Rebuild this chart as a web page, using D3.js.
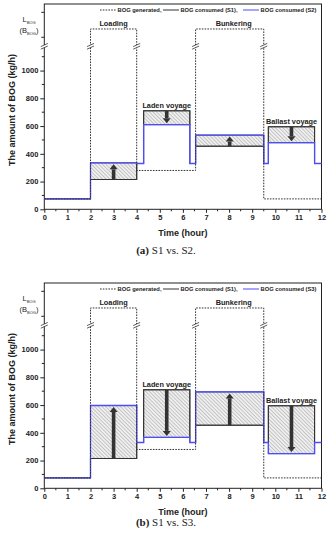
<!DOCTYPE html>
<html>
<head>
<meta charset="utf-8">
<script src="https://cdn.jsdelivr.net/npm/d3@7"></script>
<style>
	body { margin: 0; background: #fff; }
	svg { display: block; font-family: "Liberation Sans", Arial, sans-serif; }
</style>
</head>
<body>
<script>
// * Data

const hourTicks = d3.range(0, 13);
const hourMinor = d3.range(0.5, 12, 1);
const bogTicks = [0, 200, 400, 600, 800, 1000];
const bogMinor = [100, 300, 500, 700, 900, 1100];

const phaseNames = ["Loading", "Laden voyage", "Bunkering", "Ballast voyage"];
const phaseStart = [2, 4.3, 6.55, 9.7];
const phaseEnd = [4, 6.3, 9.5, 11.7];

const idleBog = 75; // 0 - 2 h
const gapBog = 330; // between the phases
const consumedS1 = [215, 710, 455, 595];
const consumedS2 = [335, 610, 535, 480];
const consumedS3 = [597, 367, 695, 250];

// BOG generated, "L" stands for the L_BOG level above the axis break
const generatedX = [0, 2, 4, 6.55, 9.5, 12];
const generatedY = [75, "L", 280, "L", 75];

// * Size & Margins

let width = 328;
let height = 550;
const LEVEL_L = 1300; // where L_BOG sits above the break
const BREAK_AT = 1175;

var svg = d3
	.select("body")
	.append("svg")
	.attr("width", width)
	.attr("height", height);

// hatch pattern
const defs = svg.append("defs");
const pat = defs
	.append("pattern")
	.attr("id", "hatch")
	.attr("patternUnits", "userSpaceOnUse")
	.attr("width", 2.6)
	.attr("height", 2.6)
	.attr("patternTransform", "rotate(-45)");
pat.append("rect").attr("width", 2.6).attr("height", 2.6).attr("fill", "#efefef");
pat.append("line")
	.attr("x1", 0).attr("y1", 0).attr("x2", 0).attr("y2", 2.6)
	.attr("stroke", "#8a8a8a").attr("stroke-width", 0.8);

const xScale = d3.scaleLinear().domain([0, 12]).range([44.3, 321.5]);

function drawPanel(top, consumed, sLabel, captionTag, captionY) {
	const g = svg.append("g");
	const yScale = d3.scaleLinear().domain([0, 1480]).range([top + 205.3, top]);
	const val = (v) => (v === "L" ? LEVEL_L : v);
	const yBreak = yScale(BREAK_AT);

	// * Frame
	g.append("rect")
		.attr("x", xScale(0))
		.attr("y", yScale(1480))
		.attr("width", xScale(12) - xScale(0))
		.attr("height", yScale(0) - yScale(1480))
		.attr("fill", "none")
		.attr("stroke", "#222")
		.attr("stroke-width", 1);

	// * Hatched boxes between S1 and the other case
	g.selectAll(".box")
		.data(phaseNames)
		.join("rect")
		.attr("x", (d, i) => xScale(phaseStart[i]))
		.attr("y", (d, i) => yScale(Math.max(consumedS1[i], consumed[i])))
		.attr("width", (d, i) => xScale(phaseEnd[i]) - xScale(phaseStart[i]))
		.attr("height", (d, i) => Math.abs(yScale(consumedS1[i]) - yScale(consumed[i])))
		.attr("fill", "url(#hatch)")
		.attr("stroke", "#444")
		.attr("stroke-width", 1);

	// * Step lines
	function stepPoints(values) {
		const xs = [0];
		const vs = [idleBog];
		values.forEach((v, i) => {
			xs.push(phaseStart[i]);
			vs.push(v);
			xs.push(phaseEnd[i]);
			vs.push(gapBog);
		});
		xs.push(12);
		vs.push(gapBog);
		return xs.map((x, i) => [x, vs[i]]);
	}
	const line = d3
		.line()
		.x((d) => xScale(d[0]))
		.y((d) => yScale(d[1]))
		.curve(d3.curveStepAfter);

	g.append("path")
		.attr("d", line(stepPoints(consumedS1)))
		.attr("fill", "none")
		.attr("stroke", "#333")
		.attr("stroke-width", 1.1);

	g.append("path")
		.attr("d", line(stepPoints(consumed)))
		.attr("fill", "none")
		.attr("stroke", "#4d4dff")
		.attr("stroke-width", 1.3);

	// generated (dotted)
	const genPts = generatedY.map((v, i) => [generatedX[i], val(v)]);
	genPts.push([12, val(generatedY[generatedY.length - 1])]);
	g.append("path")
		.attr("d", line(genPts))
		.attr("fill", "none")
		.attr("stroke", "#333")
		.attr("stroke-width", 1)
		.attr("stroke-dasharray", "1.6,1.2");

	// * Axis break marks
	const breakXs = [0].concat(generatedX.filter((x, i) => i > 0 && i < generatedX.length - 1));
	breakXs.forEach((hx) => {
		const cx = xScale(hx);
		g.append("rect")
			.attr("x", cx - 2)
			.attr("y", yBreak - 1.3)
			.attr("width", 4)
			.attr("height", 2.6)
			.attr("fill", "#fff");
		[-1.3, 1.3].forEach((o) => {
			g.append("line")
				.attr("x1", cx - 3.5)
				.attr("y1", yBreak + o + 1.6)
				.attr("x2", cx + 3.5)
				.attr("y2", yBreak + o - 1.6)
				.attr("stroke", "#333")
				.attr("stroke-width", 0.8);
		});
	});

	// * Arrows
	phaseNames.forEach((p, i) => {
		const cx = xScale((phaseStart[i] + phaseEnd[i]) / 2);
		const y1 = yScale(consumedS1[i]);
		const y2 = yScale(consumed[i]);
		const dir = Math.sign(y2 - y1);
		const tip = y2 - dir * 1.5;
		const headBase = tip - dir * 5;
		g.append("rect")
			.attr("x", cx - 1.8)
			.attr("y", Math.min(y1, headBase))
			.attr("width", 3.6)
			.attr("height", Math.abs(headBase - y1))
			.attr("fill", "#333");
		g.append("path")
			.attr("d", `M${cx - 4},${headBase}L${cx + 4},${headBase}L${cx},${tip}Z`)
			.attr("fill", "#333");
	});

	// * Phase labels
	phaseNames.forEach((p, i) => {
		const top2 = i % 2 === 0 ? LEVEL_L : Math.max(consumedS1[i], consumed[i]);
		g.append("text")
			.attr("x", xScale((phaseStart[i] + phaseEnd[i]) / 2) + (i === 2 ? 4 : 0))
			.attr("y", yScale(top2) - 3)
			.attr("text-anchor", "middle")
			.attr("font-size", "7.3px")
			.attr("font-weight", "bold")
			.attr("fill", "#222")
			.text(p);
	});

	// * Axes
	const yAxis = g.append("g").attr("transform", `translate(${xScale(0)},0)`);
	yAxis.call(d3.axisLeft(yScale).tickValues(bogTicks).tickSize(4).tickPadding(2).tickFormat(d3.format("d")));
	yAxis.selectAll(".domain").remove();
	yAxis.selectAll("text").attr("font-size", "7.5px").attr("font-weight", "bold").attr("fill", "#222");
	yAxis.selectAll("line").attr("stroke", "#222");
	bogMinor.concat([1240, 1420]).forEach((v) => {
		yAxis.append("line")
			.attr("x1", v > 1200 ? -3 : -2.5)
			.attr("x2", 0)
			.attr("y1", yScale(v))
			.attr("y2", yScale(v))
			.attr("stroke", "#222");
	});

	const xAxis = g.append("g").attr("transform", `translate(0,${yScale(0)})`);
	xAxis.call(d3.axisBottom(xScale).tickValues(hourTicks).tickSize(3.5).tickPadding(2).tickFormat(d3.format("d")));
	xAxis.selectAll(".domain").remove();
	xAxis.selectAll("text").attr("font-size", "7.5px").attr("font-weight", "bold").attr("fill", "#222");
	xAxis.selectAll("line").attr("stroke", "#222");
	hourMinor.forEach((h) => {
		xAxis.append("line")
			.attr("x1", xScale(h)).attr("x2", xScale(h))
			.attr("y1", 0).attr("y2", 2)
			.attr("stroke", "#222");
	});

	// L_BOG (B_BOG) label
	const lab = g.append("text")
		.attr("x", 29)
		.attr("y", yScale(LEVEL_L) - 7)
		.attr("text-anchor", "middle")
		.attr("font-size", "7.5px")
		.attr("fill", "#222");
	lab.append("tspan").text("L");
	lab.append("tspan").attr("font-size", "4px").attr("dy", 2).text("BOG");
	const lab2 = g.append("text")
		.attr("x", 29)
		.attr("y", yScale(LEVEL_L) + 4.5)
		.attr("text-anchor", "middle")
		.attr("font-size", "7.5px")
		.attr("fill", "#222");
	lab2.append("tspan").text("(B");
	lab2.append("tspan").attr("font-size", "4px").attr("dy", 2).text("BOG");
	lab2.append("tspan").attr("dy", -2).text(")");

	// axis titles
	g.append("text")
		.attr("transform", `translate(15,${top + 106}) rotate(-90)`)
		.attr("text-anchor", "middle")
		.attr("font-size", "9px")
		.attr("font-weight", "bold")
		.attr("fill", "#222")
		.text("The amount of BOG (kg/h)");
	g.append("text")
		.attr("x", xScale(6))
		.attr("y", yScale(0) + 26.5)
		.attr("text-anchor", "middle")
		.attr("font-size", "9px")
		.attr("font-weight", "bold")
		.attr("fill", "#222")
		.text("Time (hour)");

	// * LEGEND
	const legend = g.append("g").attr("transform", `translate(0,${top + 6})`);
	const items = [
		{ name: "BOG generated,", stroke: "#333", dash: "1.6,1.2", x: 100, w: 44 },
		{ name: "BOG consumed (S1),", stroke: "#333", dash: null, x: 163, w: 57 },
		{ name: "BOG consumed (" + sLabel + ")", stroke: "#4d4dff", dash: null, x: 243, w: 56 },
	];
	items.forEach((it) => {
		legend.append("line")
			.attr("x1", it.x).attr("x2", it.x + 16)
			.attr("y1", 0).attr("y2", 0)
			.attr("stroke", it.stroke)
			.attr("stroke-width", 1)
			.attr("stroke-dasharray", it.dash);
		legend.append("text")
			.attr("x", it.x + 17.5)
			.attr("y", 2.1)
			.attr("font-size", "5.8px")
			.attr("font-weight", "bold")
			.attr("fill", "#222")
			.attr("textLength", it.w)
			.attr("lengthAdjust", "spacingAndGlyphs")
			.text(it.name);
	});

	// * Caption
	const cap = svg.append("text")
		.attr("x", 166)
		.attr("y", captionY)
		.attr("text-anchor", "middle")
		.attr("font-family", "'Liberation Serif', 'Times New Roman', serif")
		.attr("font-size", "11px")
		.attr("fill", "#222");
	cap.append("tspan").attr("font-weight", "bold").text(captionTag);
	cap.append("tspan").text(" S1 vs. " + sLabel + ".");
}

drawPanel(4, consumedS2, "S2", "(a)", 254);
drawPanel(283, consumedS3, "S3", "(b)", 526);
</script>
</body>
</html>
